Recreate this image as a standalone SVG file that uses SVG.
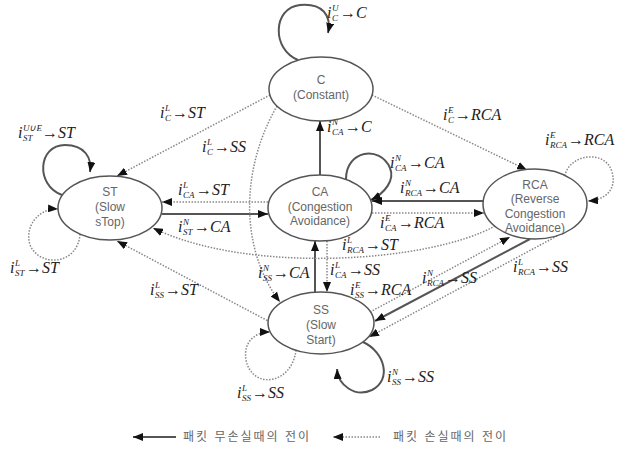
<svg xmlns="http://www.w3.org/2000/svg" width="635" height="451" viewBox="0 0 635 451">
<style>
.nd{fill:#fff;stroke:#555;stroke-width:1.5}
.nt{font-family:"Liberation Sans",Arial,sans-serif;font-size:12px;fill:#666;text-anchor:middle}
.s{fill:none;stroke:#555;stroke-width:2;marker-end:url(#ah)}
.d{fill:none;stroke:#888;stroke-width:1.5;stroke-dasharray:1.5 1.5;marker-end:url(#ah)}
.lb{font-family:"Liberation Serif","Times New Roman",serif;font-style:italic;font-size:16px;fill:#222}
.sb{font-size:9px}
.lg{font-family:"Liberation Sans","Noto Sans CJK KR",sans-serif;font-size:12px;fill:#666;letter-spacing:2px}
</style>
<defs>
<marker id="ah" markerUnits="userSpaceOnUse" markerWidth="10" markerHeight="8" refX="10" refY="4" orient="auto">
<path d="M0,0 L10,4 L0,8 z" fill="#111"/>
</marker>
</defs>
<rect width="635" height="451" fill="#fff"/>
<g id="connectors">
<path class="s" d="M298 60 C272 50,272 8,300 5 C322 3,332 15,328 33"/>
<path class="s" d="M62 195 C35 185,38 145,65 145 C85 145,92 158,90 172"/>
<path class="s" d="M162 214 L268 214"/>
<path class="s" d="M320 175 L320 121"/>
<path class="s" d="M346 179 C346 150,380 145,390 168 C395 180,385 193,371 200"/>
<path class="s" d="M483 201 L372 201"/>
<path class="s" d="M315 292 L315 241"/>
<path class="s" d="M363 342 C385 352,392 380,372 390 C355 398,338 385,337 369"/>
<path class="s" d="M530 239 L375 321"/>
<path class="d" d="M270 95 L117 176"/>
<path class="d" d="M277 106 C240 170,240 250,280 302"/>
<path class="d" d="M372 95 L527 170"/>
<path class="d" d="M268 202 L162 202"/>
<path class="d" d="M372 213 L484 213"/>
<path class="d" d="M327 241 L327 292"/>
<path class="d" d="M565 176 C568 155,605 148,612 172 C617 190,605 200,588 201"/>
<path class="d" d="M495 226 C430 262,250 275,153 228"/>
<path class="d" d="M557 236 L369 337"/>
<path class="d" d="M370 312 L510 237"/>
<path class="d" d="M80 234 C78 265,40 268,30 245 C24 225,40 208,58 209"/>
<path class="d" d="M270 322 L117 241"/>
<path class="d" d="M296 350 C292 385,252 390,246 360 C243 342,255 332,270 332"/>
</g>
<g id="labels">
<text class="lb" x="327" y="18">i<tspan class="sb" x="332" y="21">C</tspan><tspan class="sb" x="332" y="11">U</tspan><tspan x="340" y="18">→C</tspan></text>
<text class="lb" x="160" y="118">i<tspan class="sb" x="165" y="121">C</tspan><tspan class="sb" x="165" y="111">L</tspan><tspan x="172" y="118">→ST</tspan></text>
<text class="lb" x="18" y="138">i<tspan class="sb" x="23" y="141">ST</tspan><tspan class="sb" x="23" y="131">U∪E</tspan><tspan x="42" y="138">→ST</tspan></text>
<text class="lb" x="202" y="152">i<tspan class="sb" x="207" y="155">C</tspan><tspan class="sb" x="207" y="145">L</tspan><tspan x="214" y="152">→SS</tspan></text>
<text class="lb" x="178" y="195">i<tspan class="sb" x="183" y="198">CA</tspan><tspan class="sb" x="183" y="188">L</tspan><tspan x="196" y="195">→ST</tspan></text>
<text class="lb" x="178" y="232">i<tspan class="sb" x="183" y="235">ST</tspan><tspan class="sb" x="183" y="225">N</tspan><tspan x="194" y="232">→CA</tspan></text>
<text class="lb" x="10" y="273">i<tspan class="sb" x="15" y="276">ST</tspan><tspan class="sb" x="15" y="266">L</tspan><tspan x="26" y="273">→ST</tspan></text>
<text class="lb" x="150" y="295">i<tspan class="sb" x="155" y="298">SS</tspan><tspan class="sb" x="155" y="288">L</tspan><tspan x="165" y="295">→ST</tspan></text>
<text class="lb" x="327" y="132">i<tspan class="sb" x="332" y="135">CA</tspan><tspan class="sb" x="332" y="125">N</tspan><tspan x="345" y="132">→C</tspan></text>
<text class="lb" x="390" y="168">i<tspan class="sb" x="395" y="171">CA</tspan><tspan class="sb" x="395" y="161">N</tspan><tspan x="408" y="168">→CA</tspan></text>
<text class="lb" x="400" y="193">i<tspan class="sb" x="405" y="196">RCA</tspan><tspan class="sb" x="405" y="186">N</tspan><tspan x="423" y="193">→CA</tspan></text>
<text class="lb" x="380" y="228">i<tspan class="sb" x="385" y="231">CA</tspan><tspan class="sb" x="385" y="221">E</tspan><tspan x="398" y="228">→RCA</tspan></text>
<text class="lb" x="443" y="120">i<tspan class="sb" x="448" y="123">C</tspan><tspan class="sb" x="448" y="113">E</tspan><tspan x="455" y="120">→RCA</tspan></text>
<text class="lb" x="545" y="145">i<tspan class="sb" x="550" y="148">RCA</tspan><tspan class="sb" x="550" y="138">E</tspan><tspan x="568" y="145">→RCA</tspan></text>
<text class="lb" x="342" y="250">i<tspan class="sb" x="347" y="253">RCA</tspan><tspan class="sb" x="347" y="243">L</tspan><tspan x="365" y="250">→ST</tspan></text>
<text class="lb" x="258" y="278">i<tspan class="sb" x="263" y="281">SS</tspan><tspan class="sb" x="263" y="271">N</tspan><tspan x="273" y="278">→CA</tspan></text>
<text class="lb" x="330" y="275">i<tspan class="sb" x="335" y="278">CA</tspan><tspan class="sb" x="335" y="268">L</tspan><tspan x="348" y="275">→SS</tspan></text>
<text class="lb" x="350" y="295">i<tspan class="sb" x="355" y="298">SS</tspan><tspan class="sb" x="355" y="288">E</tspan><tspan x="365" y="295">→RCA</tspan></text>
<text class="lb" x="422" y="283">i<tspan class="sb" x="427" y="286">RCA</tspan><tspan class="sb" x="427" y="276">N</tspan><tspan x="445" y="283">→SS</tspan></text>
<text class="lb" x="513" y="272">i<tspan class="sb" x="518" y="275">RCA</tspan><tspan class="sb" x="518" y="265">L</tspan><tspan x="536" y="272">→SS</tspan></text>
<text class="lb" x="387" y="382">i<tspan class="sb" x="392" y="385">SS</tspan><tspan class="sb" x="392" y="375">N</tspan><tspan x="402" y="382">→SS</tspan></text>
<text class="lb" x="237" y="398">i<tspan class="sb" x="242" y="401">SS</tspan><tspan class="sb" x="242" y="391">L</tspan><tspan x="252" y="398">→SS</tspan></text>
</g>
<g id="node-C"><ellipse class="nd" cx="321" cy="89" rx="52" ry="32"/><text class="nt" x="321" y="84">C</text><text class="nt" x="321" y="99">(Constant)</text></g>
<g id="node-ST"><ellipse class="nd" cx="110" cy="208" rx="52" ry="32"/><text class="nt" x="110" y="196">ST</text><text class="nt" x="110" y="211">(Slow</text><text class="nt" x="110" y="226">sTop)</text></g>
<g id="node-CA"><ellipse class="nd" cx="320" cy="208" rx="52" ry="33"/><text class="nt" x="320" y="196">CA</text><text class="nt" x="320" y="211">(Congestion</text><text class="nt" x="320" y="225">Avoidance)</text></g>
<g id="node-RCA"><ellipse class="nd" cx="535" cy="204" rx="52" ry="35"/><text class="nt" x="535" y="189">RCA</text><text class="nt" x="535" y="203">(Reverse</text><text class="nt" x="535" y="218">Congestion</text><text class="nt" x="535" y="232">Avoidance)</text></g>
<g id="node-SS"><ellipse class="nd" cx="321" cy="323" rx="53" ry="31"/><text class="nt" x="321" y="314">SS</text><text class="nt" x="321" y="329">(Slow</text><text class="nt" x="321" y="344">Start)</text></g>
<g id="legend">
<path class="s" d="M176 437 L133 437"/>
<text class="lg" x="183" y="441">패킷 무손실때의 전이</text>
<path class="d" d="M380 437 L333 437"/>
<text class="lg" x="393" y="441">패킷 손실때의 전이</text>
</g>
</svg>
